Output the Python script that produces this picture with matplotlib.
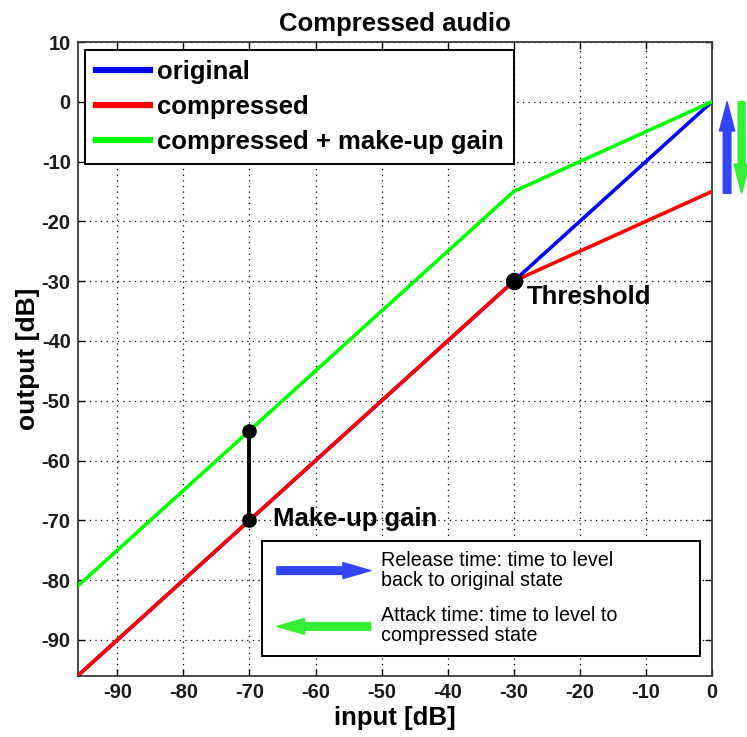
import numpy as np
import matplotlib
matplotlib.use("Agg")
from matplotlib import pyplot as plt
from matplotlib.patches import Rectangle

plt.rcParams['font.family'] = ['Liberation Sans', 'DejaVu Sans']
plt.rcParams['axes.unicode_minus'] = False

# input level (dB) and the three transfer curves
x_in = [-96, -30, 0]
y_original = [-96, -30, 0]
y_compressed = [-96, -30, -15]
y_makeup = [-81, -15, 0]

threshold = -30
makeup_x = -70
makeup_lo = -70
makeup_hi = -55

xticks = [-90, -80, -70, -60, -50, -40, -30, -20, -10, 0]
yticks = [10, 0, -10, -20, -30, -40, -50, -60, -70, -80, -90]

big = 18.5

fig = plt.figure(figsize=(7.47, 7.37), dpi=100)
ax = fig.add_axes([0.104, 0.083, 0.849, 0.860])

l1, = ax.plot(x_in, y_original, color=(0, 0, 1), lw=2.6, zorder=3)
l2, = ax.plot(x_in, y_compressed, color=(1, 0, 0), lw=2.6, zorder=4)
l3, = ax.plot(x_in, y_makeup, color=(0, 1, 0), lw=2.6, zorder=4)

# threshold knee and make-up gain marker
ax.plot([threshold], [threshold], 'o', color='k', ms=11.5, zorder=6)
ax.plot([makeup_x, makeup_x], [makeup_lo, makeup_hi], '-o', color='k',
        lw=2.8, ms=9.5, zorder=6)
ax.text(-28.0, -32.6, 'Threshold', fontsize=big, fontweight='bold',
        va='center', ha='left', zorder=7)
ax.text(-66.4, -69.8, 'Make-up gain', fontsize=big, fontweight='bold',
        va='center', ha='left', zorder=7)

ax.set_xlim(-96, 0)
ax.set_ylim(-96, 10)
ax.set_xticks(xticks)
ax.set_yticks(yticks)
ax.grid(True, color='k', linestyle=(0, (1, 3.5)), lw=0.9)
ax.tick_params(direction='in', length=5, width=1, labelsize=14.5,
               top=True, right=True, colors='k', pad=5)
for lab in ax.get_xticklabels() + ax.get_yticklabels():
    lab.set_fontweight('bold')
    lab.set_color('#1a1a1a')
for s in ax.spines.values():
    s.set_linewidth(1.3)
    s.set_color('#3a3a3a')

ax.set_title('Compressed audio', fontsize=big, fontweight='bold', pad=8)
ax.set_xlabel('input [dB]', fontsize=big, fontweight='bold', labelpad=3)
ax.set_ylabel('output [dB]', fontsize=big + 0.5, fontweight='bold', labelpad=1)

leg = ax.legend([l1, l2, l3],
                ['original', 'compressed', 'compressed + make-up gain'],
                loc='upper left', bbox_to_anchor=(0.0, 1.0),
                fancybox=False, edgecolor='k', framealpha=1,
                prop={'weight': 'bold', 'size': big},
                handlelength=2.1, handletextpad=0.3, labelspacing=0.42,
                borderaxespad=0.3, borderpad=0.4)
leg.get_frame().set_linewidth(1.4)
for h in leg.get_lines():
    h.set_linewidth(4.5)

# release / attack arrows beside the axes
ax.annotate('', xy=(2.3, 0), xytext=(2.3, -15.3), annotation_clip=False,
            arrowprops=dict(arrowstyle='simple,head_length=2.1,head_width=1.1,tail_width=0.55',
                            color='#3344ff', mutation_scale=10,
                            shrinkA=0, shrinkB=0))
ax.annotate('', xy=(4.5, -15.3), xytext=(4.5, 0), annotation_clip=False,
            arrowprops=dict(arrowstyle='simple,head_length=2.1,head_width=1.1,tail_width=0.5',
                            color='#33ee33', mutation_scale=10,
                            shrinkA=0, shrinkB=0))

# explanation box in the lower right corner
box = Rectangle((0.290, 0.0315), 0.691, 0.182, transform=ax.transAxes,
                facecolor='white', edgecolor='k', lw=1.4, zorder=8)
ax.add_patch(box)
ax.annotate('', xy=(0.462, 0.166), xytext=(0.314, 0.166),
            xycoords='axes fraction', textcoords='axes fraction', zorder=9,
            arrowprops=dict(arrowstyle='simple,head_length=2.0,head_width=1.15,tail_width=0.55',
                            color='#3344ff', mutation_scale=10,
                            shrinkA=0, shrinkB=0))
ax.annotate('', xy=(0.314, 0.078), xytext=(0.462, 0.078),
            xycoords='axes fraction', textcoords='axes fraction', zorder=9,
            arrowprops=dict(arrowstyle='simple,head_length=2.0,head_width=1.15,tail_width=0.55',
                            color='#33ee33', mutation_scale=10,
                            shrinkA=0, shrinkB=0))
ax.text(0.479, 0.166, 'Release time: time to level\nback to original state',
        transform=ax.transAxes, fontsize=14.2, va='center', ha='left',
        linespacing=1.08, zorder=9)
ax.text(0.479, 0.079, 'Attack time: time to level to\ncompressed state',
        transform=ax.transAxes, fontsize=14.2, va='center', ha='left',
        linespacing=1.08, zorder=9)

fig.savefig('out.png', dpi=100)
